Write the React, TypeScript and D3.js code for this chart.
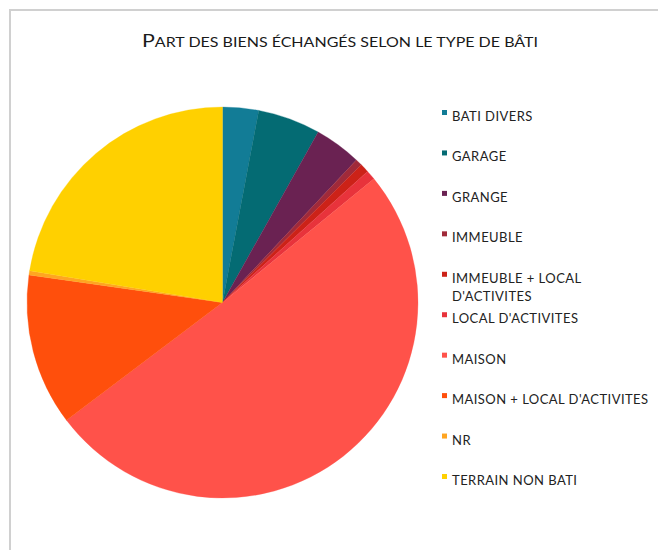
import React from "react";
import * as d3 from "d3";

const categories = [
  "BATI DIVERS",
  "GARAGE",
  "GRANGE",
  "IMMEUBLE",
  "IMMEUBLE + LOCAL D'ACTIVITES",
  "LOCAL D'ACTIVITES",
  "MAISON",
  "MAISON + LOCAL D'ACTIVITES",
  "NR",
  "TERRAIN NON BATI",
];
const legendLines = [
  ["BATI DIVERS"],
  ["GARAGE"],
  ["GRANGE"],
  ["IMMEUBLE"],
  ["IMMEUBLE + LOCAL", "D'ACTIVITES"],
  ["LOCAL D'ACTIVITES"],
  ["MAISON"],
  ["MAISON + LOCAL D'ACTIVITES"],
  ["NR"],
  ["TERRAIN NON BATI"],
];
const values = [2.97, 5.17, 3.86, 0.57, 0.73, 0.8, 50.6, 12.55, 0.35, 22.4];
const colors = [
  "#127C96",
  "#046B73",
  "#6A2252",
  "#A02A3A",
  "#CC2218",
  "#E8333B",
  "#FF524A",
  "#FF4F0C",
  "#FFA521",
  "#FFD000",
];
const title = "Part des biens échangés selon le type de bâti";

export default function App() {
  const W = 658, H = 550;
  const cx = 222.5, cy = 302.5, r = 195.5;
  const pie = d3.pie<number>().sort(null).value((d) => d)(values);
  const arc = d3.arc<d3.PieArcDatum<number>>().innerRadius(0).outerRadius(r);
  const legendY = d3.scaleLinear().domain([0, 9]).range([121, 485]);
  return (
    <svg width={W} height={H} style={{ position: "absolute", left: 0, top: 0, background: "#fff" }}
      fontFamily="Lato, 'Open Sans', sans-serif">
      <rect x={0} y={0} width={W} height={H} fill="#fff" />
      <path d={`M10,${H} L10,10 L${W},10`} fill="none" stroke="#d0d0d0" strokeWidth={2} />
      <text x={142} y={47} fill="#1a1a1a" textLength={396} lengthAdjust="spacingAndGlyphs"
        fontFamily="Lato, sans-serif">
        <tspan fontSize={18}>{title[0].toUpperCase()}</tspan>
        <tspan fontSize={13.5}>{title.slice(1).toUpperCase()}</tspan>
      </text>
      <g transform={`translate(${cx},${cy})`}>
        {pie.map((p, i) => (
          <path key={i} d={arc(p) || ""} fill={colors[i]} stroke={colors[i]} strokeWidth={0.3} />
        ))}
      </g>
      {categories.map((c, i) => {
        const y = legendY(i);
        return (
          <g key={c}>
            <rect x={442} y={y - 11} width={5} height={5} fill={colors[i]} />
            <text x={452} y={y} fontSize={13} fill="#222" letterSpacing={0.45}>
              {legendLines[i].map((l, j) => (
                <tspan key={j} x={452} dy={j === 0 ? 0 : 18}>{l}</tspan>
              ))}
            </text>
          </g>
        );
      })}
    </svg>
  );
}
